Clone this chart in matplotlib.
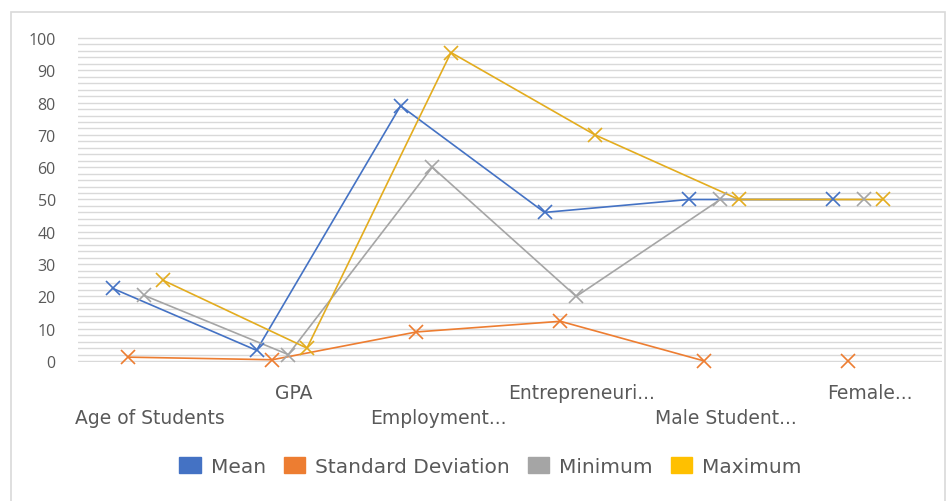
import numpy as np
import matplotlib
matplotlib.use("Agg")
import matplotlib.pyplot as plt
from matplotlib.patches import Rectangle, Patch

categories = ["Age of Students", "GPA", "Employment...", "Entrepreneuri...",
              "Male Student...", "Female..."]
mean = [22.5, 3.3, 79, 46, 50, 50]
std_dev = [1.2, 0.4, 9, 12.3, 0, 0]
minimum = [20.3, 2, 60, 20, 50, 50]
maximum = [25, 4, 95.5, 70, 50, 50]

series = [
    ("Mean", mean, "#4472C4", -0.26),
    ("Standard Deviation", std_dev, "#ED7D31", -0.15),
    ("Minimum", minimum, "#A5A5A5", -0.04),
    ("Maximum", maximum, "#E3AC1E", 0.09),
]
legend_colors = ["#4472C4", "#ED7D31", "#A5A5A5", "#FFC000"]
text_color = "#595959"

fig = plt.figure(figsize=(9.47, 5.02), dpi=100)
ax = fig.add_axes([0.0824, 0.2769, 0.9123, 0.6474])

# light chart-area border
fig.patches.append(Rectangle((0.012, -0.05), 0.986, 1.024, transform=fig.transFigure,
                             fill=False, edgecolor="#d9d9d9", lw=1.2))

x = np.arange(len(categories))
for name, vals, col, off in series:
    xs = x + off
    if name == "Standard Deviation":
        # no connecting segment to the last category
        ax.plot(xs[:-1], vals[:-1], color=col, lw=1.2, zorder=3, clip_on=False)
    else:
        ax.plot(xs, vals, color=col, lw=1.2, zorder=3, clip_on=False)
    ax.plot(xs, vals, ls="none", marker="x", ms=10, mew=1.2, color=col,
            zorder=4, clip_on=False)

ax.set_xlim(-0.5, len(categories) - 0.5)
ax.set_ylim(-0.3, 100.3)
ax.set_yticks(np.arange(0, 101, 10))
ax.set_yticks(np.arange(0, 101, 2), minor=True)
ax.yaxis.grid(True, which="both", color="#d9d9d9", lw=1.0)
ax.set_axisbelow(True)
ax.tick_params(axis="y", which="both", length=0, pad=16, labelcolor=text_color)
for lab in ax.get_yticklabels():
    lab.set_fontfamily("Open Sans")
    lab.set_fontsize(11.5)

ax.set_xticks(x)
ax.set_xticklabels(categories, fontsize=13.5, color=text_color)
ax.tick_params(axis="x", length=0)
for i, tick in enumerate(ax.xaxis.get_major_ticks()):
    tick.set_pad(33 if i % 2 == 0 else 15)

for s in ax.spines.values():
    s.set_visible(False)

handles = [Patch(facecolor=c, edgecolor=c, label=n)
           for (n, _, _, _), c in zip(series, legend_colors)]
leg = fig.legend(handles=handles, loc="center", bbox_to_anchor=(0.518, 0.069),
                 ncol=4, frameon=False, fontsize=14.5, handlelength=1.05,
                 handleheight=0.9, columnspacing=0.9, handletextpad=0.5)
for t in leg.get_texts():
    t.set_color(text_color)

fig.savefig("out.png", dpi=100)
